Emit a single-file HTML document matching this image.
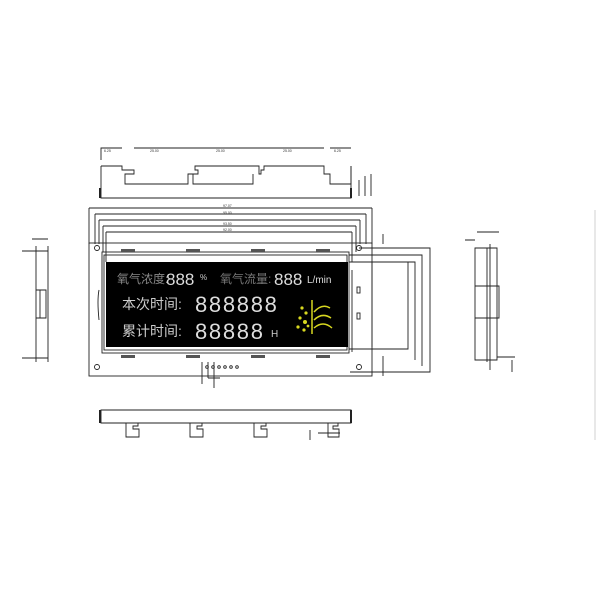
<!DOCTYPE html>
<html><head><meta charset="utf-8"><style>
html,body{margin:0;padding:0;background:#fff;}
svg{display:block;}
text{font-family:"Liberation Sans","Noto Sans CJK SC",sans-serif;}
</style></head><body>
<svg width="600" height="600" viewBox="0 0 600 600" xmlns="http://www.w3.org/2000/svg">
<g fill="none" stroke="#222" stroke-width="0.9">
<!-- top view -->
<path d="M101,166 H122 V170 H134 V174 H125 V184 H188 V174 H198 V170 H195 V166 H259 V174 H261 V170 H264 V166 H324 V174 H330 V184 H351 V166"/>
<path d="M101,166 V198 H351 V166"/>
<path d="M193,174 V184 H253 V174"/>
<path d="M100,188 V198 M351,188 V198" stroke-width="2"/>
<path d="M101,160 V148 H122 M134,148 H324 M330,148 H351 M359,180 V196 M365,176 V196 M371,174 V196"/>
<text x="104" y="152" font-size="3.5" fill="#333" stroke="none">6.25</text>
<text x="150" y="152" font-size="3.5" fill="#333" stroke="none">25.00</text>
<text x="216" y="152" font-size="3.5" fill="#333" stroke="none">25.00</text>
<text x="283" y="152" font-size="3.5" fill="#333" stroke="none">25.00</text>
<text x="334" y="152" font-size="3.5" fill="#333" stroke="none">6.25</text>
<!-- dimension lines over board -->
<path d="M89,208 H372 M95,214 H366 M99,220 H360 M103,226 H356 M106,232 H352"/>
<path d="M89,208 V244 M372,208 V244 M95,214 V244 M366,214 V244 M99,220 V244 M360,220 V244 M103,226 V252 M356,226 V252 M106,232 V262 M352,232 V262"/>
<text x="223" y="207" font-size="3.5" fill="#333" stroke="none">97.07</text>
<text x="223" y="214" font-size="3.5" fill="#333" stroke="none">95.00</text>
<text x="223" y="225" font-size="3.5" fill="#333" stroke="none">93.50</text>
<text x="223" y="231" font-size="3.5" fill="#333" stroke="none">92.00</text>
<!-- board -->
<rect x="89" y="243" width="283" height="133"/>
<rect x="102" y="252" width="247" height="101"/>
<rect x="104" y="255" width="243" height="95"/>
<circle cx="97" cy="248" r="2.5"/><circle cx="359" cy="248" r="2.5"/>
<circle cx="97" cy="367" r="2.5"/><circle cx="359" cy="367" r="2.5"/>
<path d="M99,290 Q97,300 99,320"/>
<!-- right panel -->
<path d="M359,248 H430 V372 H350 M349,255 H422 V366 M349,262 H415 V360 M349,349 H408 V262 M352,352 V270 M372,262 V347"/>
<rect x="357" y="287" width="3" height="6"/><rect x="357" y="313" width="3" height="6"/>
<path d="M383,234 V244 M383,356 V376"/>
<!-- pins -->
<path d="M202,362 V384 M208,362 V378 M214,362 V388 M208,378 H220"/>
<circle cx="207" cy="367" r="1.3"/><circle cx="213" cy="367" r="1.3"/><circle cx="219" cy="367" r="1.3"/><circle cx="225" cy="367" r="1.3"/><circle cx="231" cy="367" r="1.3"/><circle cx="237" cy="367" r="1.3"/>
<!-- left side view -->
<path d="M22,251 H48 M22,358 H48 M36,246 V362 M48,246 V362 M36,290 H46 V318 H36 M32,239 H48"/>
<path d="M40,290 V318"/>
<!-- right side view -->
<path d="M475,248 H497 V360 H475 Z M487,248 V362 M490,244 V370 M475,286 H499 V318 H475"/>
<path d="M465,240 H475 M477,232 H499 M497,357 H515 M512,360 V372"/>
<!-- bottom view -->
<path d="M101,410 H351 V423 H101 Z"/>
<path d="M126,423 V437 H139 V429 H133 V426 H138 V423 M190,423 V437 H203 V429 H197 V426 H202 V423 M254,423 V437 H267 V429 H261 V426 H266 V423 M328,423 V437 H339 V429 H333 V426 H338 V423 M318,433 H340 M310,430 V440"/>
<path d="M100,410 V423 M351,410 V423" stroke-width="2"/>
<path d="M595,210 V440" stroke="#ccc"/>
</g>
<g fill="#555">
<rect x="121" y="249" width="14" height="3"/><rect x="186" y="249" width="14" height="3"/><rect x="251" y="249" width="14" height="3"/><rect x="316" y="249" width="14" height="3"/>
<rect x="121" y="355" width="14" height="3"/><rect x="186" y="355" width="14" height="3"/><rect x="251" y="355" width="14" height="3"/><rect x="316" y="355" width="14" height="3"/>
</g>
<!-- display -->
<rect x="106" y="262" width="242" height="85" fill="#000"/>
<text x="117" y="283" font-size="12" fill="#888">氧气浓度:</text>
<text x="166" y="285" font-size="17" fill="#ddd" font-family="Liberation Mono">888</text>
<text x="200" y="280" font-size="8" fill="#ccc">%</text>
<text x="220" y="283" font-size="12" fill="#777">氧气流量:</text>
<text x="274" y="285" font-size="17" fill="#ddd" font-family="Liberation Mono">888</text>
<text x="307" y="283" font-size="10" fill="#ddd">L/min</text>
<text x="122" y="309" font-size="14" fill="#ccc">本次时间:</text>
<text x="195" y="312" font-size="22" fill="#ddd" font-family="Liberation Mono" letter-spacing="1.7">888888</text>
<text x="122" y="336" font-size="14" fill="#ccc">累计时间:</text>
<text x="195" y="339" font-size="22" fill="#ddd" font-family="Liberation Mono" letter-spacing="1.7">88888</text>
<text x="271" y="337" font-size="10" fill="#ccc">H</text>
<g stroke="#d8d820" stroke-width="1.5" fill="none">
<path d="M312,300 V334"/>
<path d="M314,312 Q322,303 330,308 M314,320 Q322,312 331,318 M314,328 Q323,320 332,328"/>
</g>
<g fill="#d8d820"><circle cx="302" cy="308" r="1.6"/><circle cx="306" cy="313" r="1.6"/><circle cx="300" cy="318" r="1.6"/><circle cx="305" cy="322" r="2"/><circle cx="298" cy="327" r="1.6"/><circle cx="304" cy="330" r="1.6"/><circle cx="308" cy="326" r="1.4"/></g>
</svg>
</body></html>
